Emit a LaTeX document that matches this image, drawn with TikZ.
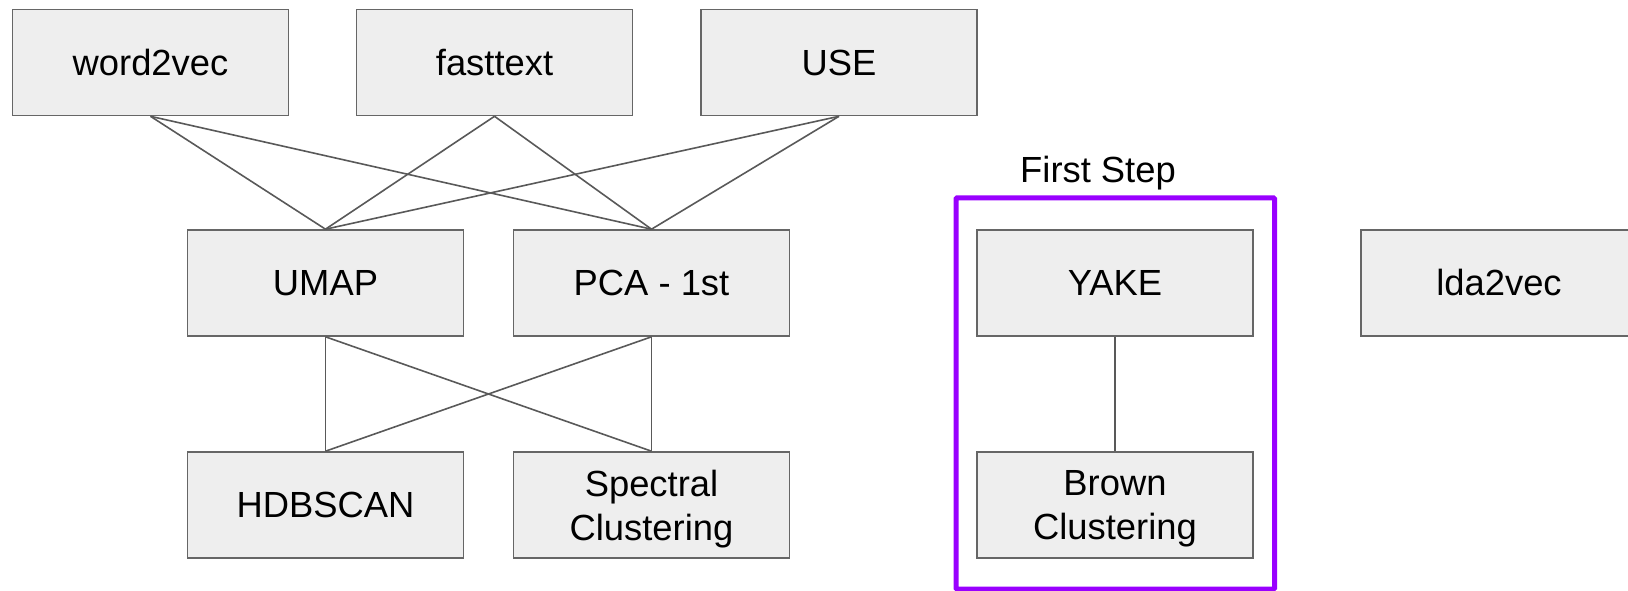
\documentclass[tikz,border=0pt]{standalone}
\usepackage{fontspec}
\setmainfont{Liberation Sans}
\definecolor{boxfill}{HTML}{EEEEEE}
\definecolor{boxline}{HTML}{666666}
\definecolor{linkline}{HTML}{595959}
\definecolor{stepframe}{HTML}{9900FF}
\newcommand{\labelfont}{\fontsize{36.5}{44}\selectfont}
\begin{document}
\begin{tikzpicture}[x=1bp,y=-1bp,
  stage/.style={draw=boxline, fill=boxfill, line width=1.6bp,
    minimum width=276bp, minimum height=106bp, inner sep=0pt,
    align=center, font=\labelfont},
  twoline/.style={text depth=0pt},
  link/.style={draw=linkline, line width=1.6bp},
  frame/.style={draw=stepframe, line width=5bp, rounded corners=1bp}]
\useasboundingbox (0,0) rectangle (1628,591);

% step frame and its caption
\draw[frame] (956,198) rectangle (1274.5,589);
\node[font=\labelfont, anchor=base] (cap) at (1098,182.5) {First Step};

% box centres
\coordinate (w2v) at (150.5,62.5);
\coordinate (ft) at (494.5,62.5);
\coordinate (use) at (839,62.5);
\coordinate (um) at (325.5,283);
\coordinate (pc) at (651.5,283);
\coordinate (hd) at (325.5,505);
\coordinate (sp) at (651.5,505);
\coordinate (yk) at (1115,283);
\coordinate (bc) at (1115,505);

\node[stage] (word2vec) at (w2v) {word2vec};
\node[stage] (fasttext) at (ft) {fasttext};
\node[stage] (USE) at (use) {USE};
\node[stage] (UMAP) at (um) {UMAP};
\node[stage] (PCA) at (pc) {PCA - 1st};
\node[stage] (HDBSCAN) at (hd) {HDBSCAN};
\node[stage, twoline] (Spectral) at (sp) {Spectral\\Clustering};
\node[stage] (YAKE) at (yk) {YAKE};
\node[stage, twoline] (Brown) at (bc) {Brown\\Clustering};
\node[stage] (lda2vec) at (1499,283) {lda2vec};

\foreach \src in {word2vec,fasttext,USE}
  \foreach \dst in {UMAP,PCA}
    \draw[link] (\src.south) -- (\dst.north);
\foreach \src in {UMAP,PCA}
  \foreach \dst in {HDBSCAN,Spectral}
    \draw[link] (\src.south) -- (\dst.north);
\draw[link] (YAKE.south) -- (Brown.north);
\end{tikzpicture}
\end{document}
